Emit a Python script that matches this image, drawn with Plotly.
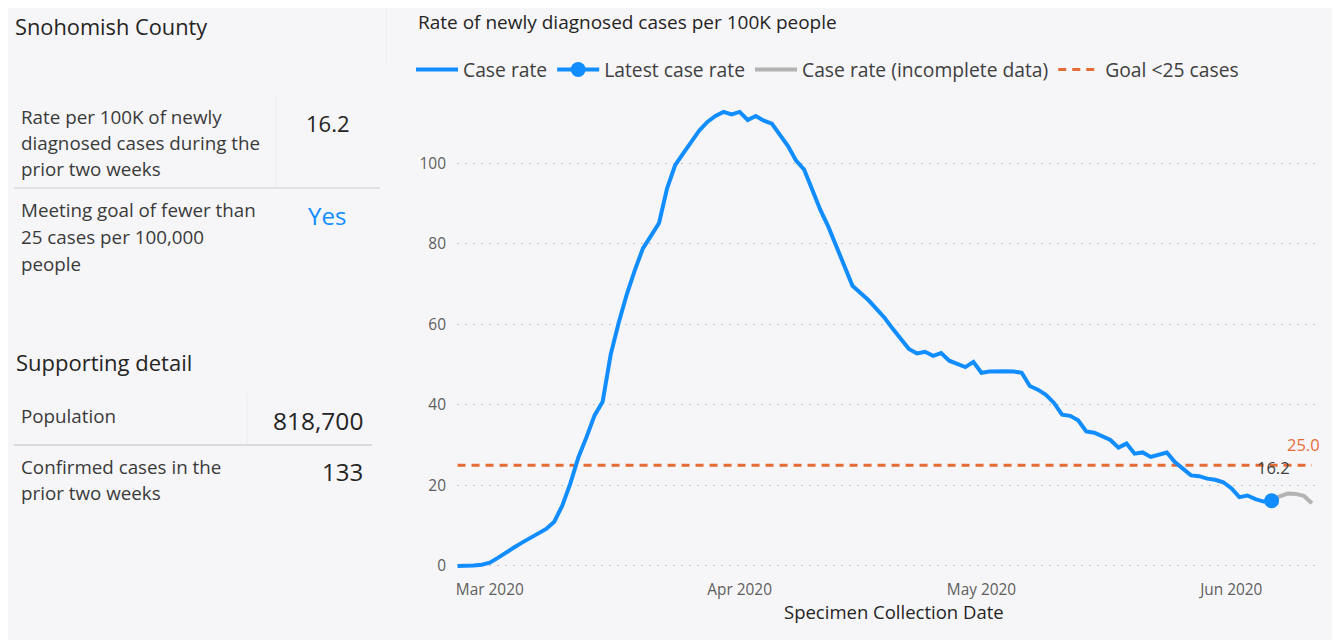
import plotly.graph_objects as go
import pandas as pd

# ---------------- data ----------------
case_dates = pd.date_range("2020-02-26", "2020-06-06", freq="D")
case_rate = [
    0.0, 0.0, 0.1, 0.3, 0.8, 2.0, 3.4, 4.6, 5.8, 6.9,
    8.0, 9.2, 11.0, 15.0, 20.5, 27.0, 32.0, 37.4, 40.8, 52.5,
    60.5, 67.5, 73.5, 78.9, 82.0, 85.2, 93.8, 99.6, 102.5, 105.5,
    108.2, 110.3, 111.8, 112.8, 112.2, 112.8, 110.8, 111.8, 110.6, 109.9,
    107.2, 104.3, 100.7, 98.5, 93.5, 88.5, 84.3, 79.3, 74.2, 69.6,
    67.8, 66.0, 63.8, 61.6, 58.9, 56.3, 53.9, 52.8, 53.2, 52.2,
    52.9, 51.0, 50.3, 49.4, 50.7, 48.0, 48.3, 48.4, 48.4, 48.3,
    48.0, 44.7, 43.8, 42.5, 40.5, 37.6, 37.3, 36.2, 33.4, 33.1,
    32.1, 31.3, 29.4, 30.4, 27.9, 28.2, 27.1, 27.6, 28.2, 25.8,
    24.0, 22.5, 22.3, 21.7, 21.4, 20.8, 19.3, 17.1, 17.5, 16.6,
    16.0, 16.2,
]
latest_dates = ["2020-06-06"]
latest_rate = [16.2]
incomplete_dates = pd.date_range("2020-06-06", "2020-06-11", freq="D")
incomplete_rate = [16.2, 17.3, 18.0, 17.9, 17.4, 15.6]
goal_dates = ["2020-02-26", "2020-06-11"]
goal_rate = [25, 25]

y_ticks = [0, 20, 40, 60, 80, 100]
x_ticks = ["2020-03-01", "2020-04-01", "2020-05-01", "2020-06-01"]

# side panel content
county = "Snohomish County"
rate_label = ["Rate per 100K of newly", "diagnosed cases during the", "prior two weeks"]
rate_value = "16.2"
goal_label = ["Meeting goal of fewer than", "25 cases per 100,000", "people"]
goal_value = "Yes"
detail_title = "Supporting detail"
pop_label = ["Population"]
pop_value = "818,700"
conf_label = ["Confirmed cases in the", "prior two weeks"]
conf_value = "133"

# ---------------- styling ----------------
FONT = "'Open Sans', Roboto, sans-serif"
BLUE = "#118DFF"
GREY = "#B3B3B3"
ORANGE = "#E66C37"
BG = "#F6F6F9"
TXT = "#3A3A3A"
TICK = "#605E5C"

# page has an 8px body margin: figure origin sits at screen (8, 8)
OFF = 8
W, H = 1327, 632
# plot area in screen pixels
L, R, T, B = 457, 1320, 95, 572


def px(x):
    return (x - L) / (R - L)


def py(y):
    return (B - y) / (B - T)


fig = go.Figure()

fig.add_trace(go.Scatter(
    x=goal_dates, y=goal_rate, mode="lines", name="Goal <25 cases",
    line=dict(color=ORANGE, width=3, dash="8px,6px"), legendrank=4,
))
fig.add_trace(go.Scatter(
    x=incomplete_dates, y=incomplete_rate, mode="lines",
    name="Case rate (incomplete data)",
    line=dict(color=GREY, width=4), legendrank=3,
))
fig.add_trace(go.Scatter(
    x=case_dates, y=case_rate, mode="lines", name="Case rate",
    line=dict(color=BLUE, width=4), legendrank=1,
))
fig.add_trace(go.Scatter(
    x=latest_dates, y=latest_rate, mode="lines+markers", name="Latest case rate",
    line=dict(color=BLUE, width=4), marker=dict(color=BLUE, size=15),
    legendrank=2,
))

annotations = []


def txt(x, y, s, size, color=TXT, xanchor="left", yanchor="middle"):
    annotations.append(dict(
        x=px(x), y=py(y), xref="paper", yref="paper", text=s, showarrow=False,
        xanchor=xanchor, yanchor=yanchor,
        font=dict(family=FONT, size=size, color=color),
    ))


# chart title
txt(416, 22, "Rate of newly diagnosed cases per 100K people", 19, "#252423")
# x axis title
txt(894, 611, "Specimen Collection Date", 18.5, "#252423", xanchor="center")
# value labels
txt(1303, 444, "25.0", 16.5, ORANGE, xanchor="center")
txt(1273, 467, "16.2", 16.5, "#404040", xanchor="center")

# side panel
txt(13, 27, county, 21.8, "#252423")
for i, s in enumerate(rate_label):
    txt(19, 117 + 26 * i, s, 18.8)
txt(328, 123, rate_value, 22, "#252423", xanchor="center")
for i, s in enumerate(goal_label):
    txt(19, 210 + 27 * i, s, 18.8)
txt(327, 215, goal_value, 24, BLUE, xanchor="center")
txt(14, 362, detail_title, 22, "#252423")
for i, s in enumerate(pop_label):
    txt(19, 416, s, 18.8)
txt(365, 421, pop_value, 24.5, "#252423", xanchor="right")
for i, s in enumerate(conf_label):
    txt(19, 467 + 26 * i, s, 18.8)
txt(365, 471, conf_value, 24, "#252423", xanchor="right")

shapes = []


def hline(x0, x1, y, color, width=1.5):
    shapes.append(dict(type="line", xref="paper", yref="paper",
                       x0=px(x0), x1=px(x1), y0=py(y), y1=py(y),
                       line=dict(color=color, width=width), layer="below"))


def vline(x, y0, y1, color, width=1):
    shapes.append(dict(type="line", xref="paper", yref="paper",
                       x0=px(x), x1=px(x), y0=py(y0), y1=py(y1),
                       line=dict(color=color, width=width), layer="below"))


# table dividers
hline(14, 380, 188, "#DADADA")
vline(276, 96, 187, "#ECECEC")
hline(14, 372, 445, "#DADADA", 2)
vline(247, 393, 444, "#ECECEC")
vline(386, 8, 66, "#EFEFEF")

fig.update_layout(
    width=W, height=H,
    margin=dict(l=L - OFF, r=W - (R - OFF), t=T - OFF, b=H - (B - OFF), pad=0),
    paper_bgcolor=BG, plot_bgcolor=BG,
    font=dict(family=FONT, color=TXT),
    showlegend=True,
    legend=dict(
        orientation="h", x=px(411), y=py(70), xanchor="left", yanchor="middle",
        font=dict(family=FONT, size=19.3, color="#404040"),
        bgcolor="rgba(0,0,0,0)", traceorder="normal", itemwidth=42,
        tracegroupgap=0,
    ),
    annotations=annotations,
    shapes=shapes,
)

fig.update_xaxes(
    type="date",
    range=["2020-02-25 22:24", "2020-06-12 00:05"],
    tickvals=x_ticks, tickformat="%b %Y",
    tickfont=dict(family=FONT, size=15.4, color=TICK),
    showgrid=False, zeroline=False, showline=False, ticks="",
    ticklabelstandoff=7,
    fixedrange=True,
)
fig.update_yaxes(
    range=[-1.5, 117],
    tickvals=y_ticks,
    tickfont=dict(family=FONT, size=15.5, color=TICK),
    showgrid=True, gridcolor="#C4C4C4", griddash="2px,6px", gridwidth=1,
    zeroline=False, showline=False, ticks="", ticklabelstandoff=10,
    fixedrange=True,
)

fig.write_html("out.html")
